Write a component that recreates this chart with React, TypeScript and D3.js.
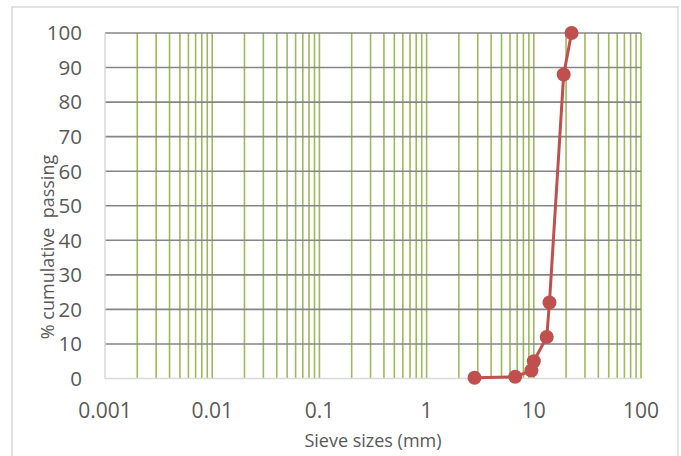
import React from "react";
import * as d3 from "d3";

const sieveSizes = [2.8, 6.7, 9.5, 10, 13.2, 14, 19, 22.5];
const passing = [0.2, 0.5, 2.3, 5, 12, 22, 88, 100];
const xTicks = [0.001, 0.01, 0.1, 1, 10, 100];
const xTickLabels = ["0.001", "0.01", "0.1", "1", "10", "100"];
const yTicks = [0, 10, 20, 30, 40, 50, 60, 70, 80, 90, 100];
const xTitle = "Sieve sizes (mm)";
const yTitle = "% cumulative  passing";

const W = 681;
const H = 456;
const left = 105;
const right = 641;
const top = 33;
const bottom = 378.5;
const font = "'Open Sans', 'Liberation Sans', sans-serif";

export default function App() {
  const x = d3.scaleLog().domain([0.001, 100]).range([left, right]);
  const y = d3.scaleLinear().domain([0, 100]).range([bottom, top]);

  const minor: number[] = [];
  for (let d = -3; d <= 1; d++) {
    for (let k = 1; k <= 9; k++) {
      const v = k * Math.pow(10, d);
      if (d === -3 && k === 1) continue;
      minor.push(v);
    }
  }
  minor.push(100);

  const pts = sieveSizes.map((s, i) => [x(s), y(passing[i])] as [number, number]);
  const line = d3.line()(pts) || "";

  return (
    <svg
      width={W}
      height={H}
      style={{ position: "absolute", left: 0, top: 0, background: "#fff" }}
    >
      <rect x={12} y={7} width={666} height={460} fill="#fff" stroke="#d9d9d9" strokeWidth={1.5} />
      {minor.map((v, i) => (
        <line key={"v" + i} x1={x(v)} x2={x(v)} y1={top} y2={bottom} stroke="#9bbb59" strokeWidth={1.6} />
      ))}
      {yTicks.filter((t) => t > 0).map((t) => (
        <line key={"h" + t} x1={left} x2={right} y1={y(t)} y2={y(t)} stroke="#868686" strokeWidth={1.6} />
      ))}
      <line x1={left} x2={left} y1={top} y2={bottom} stroke="#d9d9d9" strokeWidth={1.5} />
      <line x1={left} x2={right} y1={bottom} y2={bottom} stroke="#d9d9d9" strokeWidth={1.5} />
      {yTicks.map((t) => (
        <text key={"yl" + t} x={82} y={y(t)} dy="0.36em" textAnchor="end" fontSize={20.5} fill="#595959" fontFamily={font}>
          {t}
        </text>
      ))}
      {xTicks.map((t, i) => (
        <text key={"xl" + t} x={x(t)} y={418} textAnchor="middle" fontSize={21} fill="#595959" fontFamily={font}>
          {xTickLabels[i]}
        </text>
      ))}
      <text x={(left + right) / 2} y={447} textAnchor="middle" fontSize={18} fill="#595959" fontFamily={font}>
        {xTitle}
      </text>
      <text
        transform={`translate(54,247) rotate(-90)`}
        textAnchor="middle"
        fontSize={18}
        fill="#595959"
        fontFamily={font}
        style={{ whiteSpace: "pre" }}
      >
        {yTitle}
      </text>
      <path d={line} fill="none" stroke="#c0504d" strokeWidth={3} strokeLinejoin="round" />
      {pts.map((p, i) => (
        <circle key={"c" + i} cx={p[0]} cy={p[1]} r={7} fill="#c0504d" />
      ))}
    </svg>
  );
}
